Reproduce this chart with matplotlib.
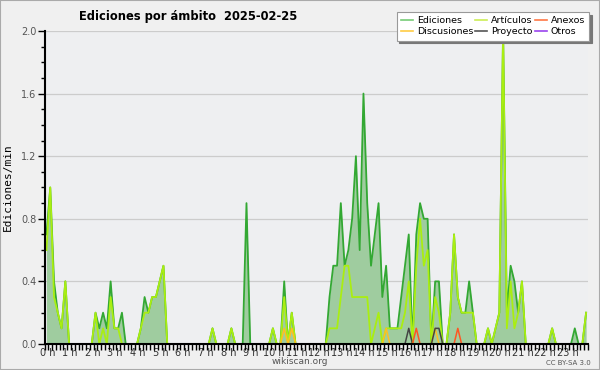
import matplotlib
matplotlib.use("Agg")
import matplotlib.pyplot as plt
from matplotlib.patches import Rectangle
from matplotlib.ticker import MultipleLocator, FuncFormatter
import numpy as np

# edits per minute, one value per 10-minute bin (144 bins)
ediciones = [
    0.7, 1.0, 0.4, 0.2, 0.1, 0.4, 0, 0, 0, 0, 0, 0,
    0, 0.2, 0.1, 0.2, 0.1, 0.4, 0.1, 0.1, 0.2, 0, 0, 0,
    0, 0.1, 0.3, 0.2, 0.3, 0.3, 0.4, 0.5, 0, 0, 0, 0,
    0, 0, 0, 0, 0, 0, 0, 0, 0.1, 0, 0, 0,
    0, 0.1, 0, 0, 0, 0.9, 0, 0, 0, 0, 0, 0,
    0.1, 0, 0, 0.4, 0, 0.2, 0, 0, 0, 0, 0, 0,
    0, 0, 0, 0.3, 0.5, 0.5, 0.9, 0.5, 0.6, 0.8, 1.2, 0.6,
    1.6, 0.9, 0.5, 0.7, 0.9, 0.3, 0.5, 0.1, 0.1, 0.1, 0.3, 0.5,
    0.7, 0, 0.7, 0.9, 0.8, 0.8, 0, 0.4, 0.4, 0, 0, 0.2,
    0.7, 0.3, 0.2, 0.2, 0.4, 0.2, 0, 0, 0, 0.1, 0, 0.1,
    0.2, 2.0, 0.2, 0.5, 0.4, 0.2, 0.4, 0, 0, 0, 0, 0,
    0, 0, 0.1, 0, 0, 0, 0, 0, 0.1, 0, 0, 0.2,
]
articulos = [
    0.6, 1.0, 0.3, 0.2, 0.1, 0.4, 0, 0, 0, 0, 0, 0,
    0, 0.2, 0, 0.1, 0, 0.3, 0.1, 0.1, 0, 0, 0, 0,
    0, 0.1, 0.2, 0.2, 0.3, 0.3, 0.4, 0.5, 0, 0, 0, 0,
    0, 0, 0, 0, 0, 0, 0, 0, 0.1, 0, 0, 0,
    0, 0.1, 0, 0, 0, 0, 0, 0, 0, 0, 0, 0,
    0.1, 0, 0, 0.3, 0, 0.2, 0, 0, 0, 0, 0, 0,
    0, 0, 0, 0.1, 0.1, 0.1, 0.3, 0.5, 0.5, 0.3, 0.3, 0.3,
    0.3, 0.3, 0, 0.1, 0.2, 0, 0.1, 0.1, 0.1, 0.1, 0.1, 0.2,
    0.4, 0, 0.5, 0.8, 0.5, 0.6, 0, 0.3, 0.2, 0, 0, 0.2,
    0.7, 0.3, 0.2, 0.2, 0.2, 0.2, 0, 0, 0, 0.1, 0, 0.1,
    0.2, 2.0, 0.1, 0.4, 0.1, 0.2, 0.4, 0, 0, 0, 0, 0,
    0, 0, 0.1, 0, 0, 0, 0, 0, 0, 0, 0, 0.2,
]
# sparse series: bin index -> value
discusiones_bins = [63, 65, 90, 103]
discusiones_vals = [0.1, 0.1, 0.1, 0.1]
proyecto_bins = [96, 103, 104]
proyecto_vals = [0.1, 0.1, 0.1]
anexos_bins = [98, 109]
anexos_vals = [0.1, 0.1]
otros_bins = []
otros_vals = []

hour_labels = [f"{h} h" for h in range(24)]


def dense(bins, vals, n=144):
    out = np.zeros(n)
    out[bins] = vals
    return out


def main():
    n = len(ediciones)
    x = (np.arange(n) + 0.5) / 6.0

    fig = plt.figure(figsize=(6.0, 3.7), dpi=100, facecolor="#f0f0f0")
    ax = fig.add_axes([0.0743, 0.0703, 0.9057, 0.846])
    ax.set_facecolor("#eeeff1")

    ax.fill_between(x, ediciones, 0, color="#9fcc9f", lw=0, zorder=2)
    ax.plot(x, ediciones, color="#33a833", lw=1.3, zorder=3, clip_on=False)
    ax.plot(x, articulos, color="#aaee11", lw=1.3, zorder=4, clip_on=False)
    ax.plot(x, dense(discusiones_bins, discusiones_vals), color="#ffc020", lw=1.1, zorder=5)
    ax.plot(x, dense(proyecto_bins, proyecto_vals), color="#444444", lw=1.1, zorder=5)
    ax.plot(x, dense(anexos_bins, anexos_vals), color="#ff5522", lw=1.1, zorder=5)
    ax.plot(x, dense(otros_bins, otros_vals), color="#9933ee", lw=1.1, zorder=5)

    ax.set_xlim(0, 24)
    ax.set_ylim(0, 2.0)

    ax.yaxis.set_major_locator(MultipleLocator(0.4))
    ax.yaxis.set_minor_locator(MultipleLocator(0.1))
    ax.yaxis.set_major_formatter(FuncFormatter(lambda v, p: f"{v:.1f}"))
    ax.set_xticks(np.arange(24) + 0.12)
    ax.set_xticklabels(hour_labels)
    ax.xaxis.set_minor_locator(MultipleLocator(1 / 6))

    ax.tick_params(axis="y", which="major", length=5, width=1, labelsize=7,
                   labelcolor="#555555", pad=1)
    ax.tick_params(axis="y", which="minor", length=3, width=1)
    ax.tick_params(axis="x", which="major", length=0, labelsize=7,
                   labelcolor="#333333", pad=3)
    ax.tick_params(axis="x", which="minor", length=4, width=1)

    ax.grid(axis="y", which="major", color="#cccccc", lw=0.9, zorder=1)
    ax.set_axisbelow(True)

    for side in ("top", "right"):
        ax.spines[side].set_visible(False)
    for side in ("left", "bottom"):
        ax.spines[side].set_linewidth(1.5)
        ax.spines[side].set_zorder(6)

    ax.set_ylabel("Ediciones/min", family="DejaVu Sans Mono", fontsize=8, labelpad=6)

    fig.text(0.313, 0.955, "Ediciones por ámbito  2025-02-25", fontsize=8.3,
             fontweight="bold", ha="center", va="center")

    handles = [
        plt.Line2D([], [], color="#77cc77", lw=1.2),
        plt.Line2D([], [], color="#ffcc44", lw=1.2),
        plt.Line2D([], [], color="#ccee55", lw=1.2),
        plt.Line2D([], [], color="#555555", lw=1.2),
        plt.Line2D([], [], color="#ff7744", lw=1.2),
        plt.Line2D([], [], color="#9944ee", lw=1.2),
    ]
    labels = ["Ediciones", "Discusiones", "Artículos", "Proyecto", "Anexos", "Otros"]
    leg = fig.legend(handles, labels, ncol=3, loc="upper right",
                     bbox_to_anchor=(0.99, 0.98), fontsize=6.8, frameon=True,
                     fancybox=False, shadow={"color": "#777777", "alpha": 1},
                     edgecolor="#999999", borderpad=0.45, labelspacing=0.2,
                     handlelength=1.3, handletextpad=0.4, columnspacing=0.2)
    leg.get_frame().set_linewidth(0.8)

    fig.text(0.5, 0.022, "wikiscan.org", fontsize=6.5, color="#555555",
             ha="center", va="center")
    fig.text(0.985, 0.02, "CC BY-SA 3.0", fontsize=5, color="#555555",
             ha="right", va="center")

    fig.patches.append(Rectangle((0, 0), 1, 1, transform=fig.transFigure,
                                 fill=False, edgecolor="#aaaaaa", lw=1.5))

    fig.savefig("out.png", dpi=100, facecolor=fig.get_facecolor())
    plt.close(fig)


if __name__ == "__main__":
    main()
